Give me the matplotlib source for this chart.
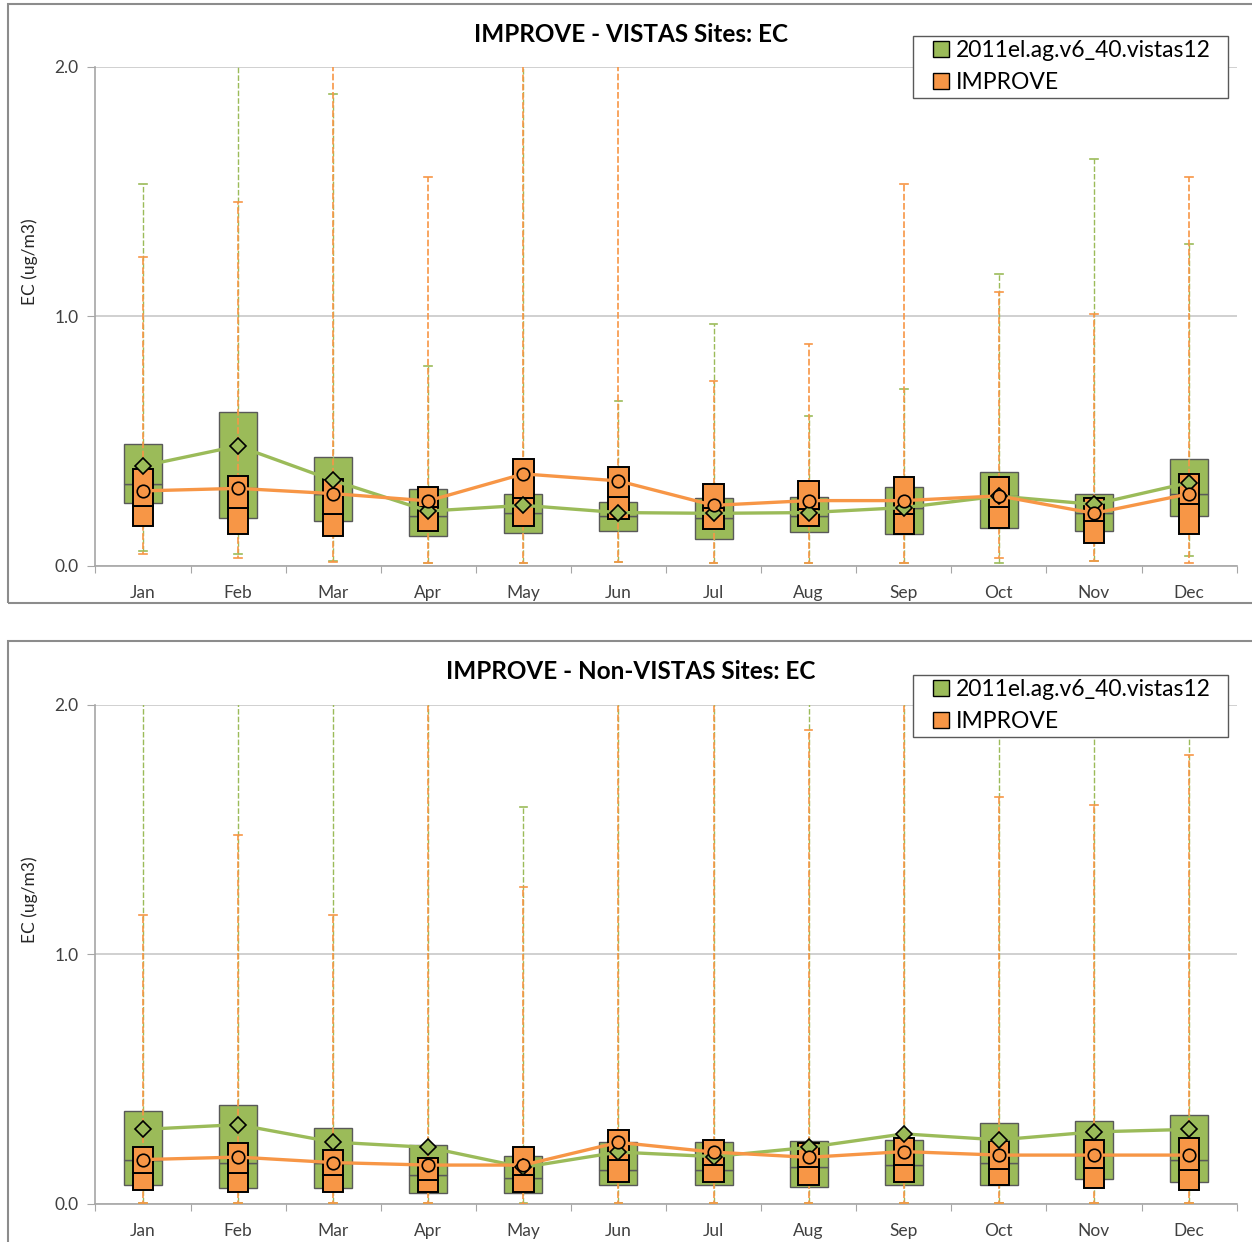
import numpy as np
import matplotlib
matplotlib.use('Agg')
import matplotlib.pyplot as plt
from matplotlib.patches import Rectangle, Patch

plt.rcParams['font.family'] = ['Lato', 'DejaVu Sans']

months = ['Jan', 'Feb', 'Mar', 'Apr', 'May', 'Jun',
          'Jul', 'Aug', 'Sep', 'Oct', 'Nov', 'Dec']
model_name = '2011el.ag.v6_40.vistas12'
obs_name = 'IMPROVE'
yticks = [0.0, 1.0, 2.0]
ytick_labels = ['0.0', '1.0', '2.0']

##### top panel: VISTAS sites (values above 2.0 run off the chart)
vis_mod_min = [0.06, 0.05, 0.02, 0.011, 0.011, 0.016, 0.011, 0.011, 0.011, 0.013, 0.02, 0.04]
vis_mod_q1 = [0.251, 0.191, 0.182, 0.122, 0.131, 0.139, 0.110, 0.138, 0.130, 0.151, 0.140, 0.200]
vis_mod_med = [0.330, 0.311, 0.290, 0.199, 0.211, 0.199, 0.194, 0.200, 0.234, 0.280, 0.211, 0.289]
vis_mod_q3 = [0.489, 0.617, 0.438, 0.310, 0.287, 0.258, 0.271, 0.278, 0.318, 0.378, 0.289, 0.429]
vis_mod_max = [1.53, 2.4, 1.89, 0.80, 2.4, 0.66, 0.97, 0.60, 0.71, 1.17, 1.63, 1.29]
vis_mod_mean = [0.401, 0.481, 0.343, 0.220, 0.243, 0.214, 0.211, 0.214, 0.234, 0.280, 0.247, 0.334]

vis_obs_min = [0.05, 0.03, 0.017, 0.013, 0.011, 0.016, 0.011, 0.011, 0.011, 0.03, 0.02, 0.013]
vis_obs_q1 = [0.160, 0.128, 0.120, 0.140, 0.160, 0.190, 0.148, 0.160, 0.128, 0.151, 0.091, 0.128]
vis_obs_med = [0.239, 0.231, 0.210, 0.238, 0.271, 0.278, 0.232, 0.228, 0.208, 0.238, 0.180, 0.248]
vis_obs_q3 = [0.389, 0.359, 0.350, 0.318, 0.428, 0.398, 0.329, 0.339, 0.358, 0.358, 0.271, 0.367]
vis_obs_max = [1.24, 1.46, 2.4, 1.56, 2.4, 2.4, 0.74, 0.89, 1.53, 1.10, 1.01, 1.56]
vis_obs_mean = [0.301, 0.311, 0.290, 0.261, 0.369, 0.341, 0.243, 0.262, 0.262, 0.281, 0.211, 0.289]

##### bottom panel: Non-VISTAS sites
non_mod_min = [0.005] * 12
non_mod_q1 = [0.075, 0.065, 0.065, 0.045, 0.045, 0.075, 0.075, 0.067, 0.075, 0.075, 0.099, 0.088]
non_mod_med = [0.178, 0.166, 0.166, 0.118, 0.105, 0.136, 0.135, 0.147, 0.155, 0.166, 0.196, 0.176]
non_mod_q3 = [0.374, 0.396, 0.306, 0.236, 0.194, 0.247, 0.247, 0.254, 0.257, 0.326, 0.334, 0.357]
non_mod_max = [2.4, 2.4, 2.4, 2.4, 1.59, 2.4, 2.4, 2.4, 2.4, 2.4, 2.4, 2.4]
non_mod_mean = [0.299, 0.318, 0.248, 0.227, 0.147, 0.208, 0.190, 0.227, 0.281, 0.257, 0.289, 0.299]

non_obs_min = [0.005, 0.005, 0.005, 0.005, 0.0, 0.005, 0.005, 0.005, 0.005, 0.005, 0.005, 0.005]
non_obs_q1 = [0.056, 0.047, 0.047, 0.047, 0.047, 0.087, 0.087, 0.078, 0.087, 0.078, 0.065, 0.056]
non_obs_med = [0.123, 0.123, 0.115, 0.095, 0.115, 0.176, 0.155, 0.147, 0.155, 0.139, 0.146, 0.136]
non_obs_q3 = [0.227, 0.246, 0.215, 0.186, 0.227, 0.295, 0.257, 0.246, 0.263, 0.254, 0.257, 0.266]
non_obs_max = [1.16, 1.48, 1.16, 2.4, 1.27, 2.4, 2.4, 1.90, 2.4, 1.63, 1.60, 1.80]
non_obs_mean = [0.178, 0.188, 0.166, 0.156, 0.156, 0.247, 0.208, 0.187, 0.210, 0.196, 0.196, 0.196]

green = '#9BBB59'
orange = '#F79646'


def draw_boxes(ax, x, q1, med, q3, width, face, edge, lw, z):
    # two stacked pieces per box: q1-median and median-q3
    for i in range(len(x)):
        ax.add_patch(Rectangle((x[i] - width / 2, q1[i]), width, med[i] - q1[i],
                               facecolor=face, edgecolor=edge, lw=lw, zorder=z))
        ax.add_patch(Rectangle((x[i] - width / 2, med[i]), width, q3[i] - med[i],
                               facecolor=face, edgecolor=edge, lw=lw, zorder=z))


def draw_whiskers(ax, x, lo, hi, color, lw, z, offset):
    for i in range(len(x)):
        ln, = ax.plot([x[i], x[i]], [lo[i], hi[i]], color=color, lw=lw, zorder=z)
        ln.set_linestyle((offset, (4, 1.5)))
        ax.plot([x[i] - 0.04, x[i] + 0.04], [hi[i], hi[i]], color=color, lw=1.2, zorder=z)
        ax.plot([x[i] - 0.04, x[i] + 0.04], [lo[i], lo[i]], color=color, lw=1.2, zorder=z)


def panel(ax, title, title_y, leg_top, mod, obs):
    x = np.arange(len(months))
    mmin, mq1, mmed, mq3, mmax, mmean = mod
    omin, oq1, omed, oq3, omax, omean = obs

    # green (model) boxes behind, orange (obs) boxes on top
    draw_boxes(ax, x, mq1, mmed, mq3, 0.40, green, '#595959', 1.0, 2)
    draw_whiskers(ax, x, mmin, mmax, green, 1.0, 3, 0)
    draw_whiskers(ax, x, omin, omax, orange, 1.2, 3.5, 2.5)
    draw_boxes(ax, x, oq1, omed, oq3, 0.215, orange, 'black', 1.4, 4)

    ax.plot(x, mmean, color=green, lw=2.4, zorder=5)
    ax.plot(x, omean, color=orange, lw=2.4, zorder=5)
    ax.plot(x, mmean, ls='none', marker='D', ms=8, mfc=green, mec='black', mew=1.2, zorder=6)
    ax.plot(x, omean, ls='none', marker='o', ms=9, mfc=orange, mec='black', mew=1.2, zorder=6)

    ax.set_xlim(-0.5, len(months) - 0.5)
    ax.set_ylim(0, 2.0)
    ax.set_yticks(yticks)
    ax.set_yticklabels(ytick_labels, fontsize=12.5, color='#404040')
    ax.set_xticks(np.arange(len(months) + 1) - 0.5)
    ax.set_xticklabels([])
    ax.set_xticks(x, minor=True)
    ax.set_xticklabels(months, minor=True, fontsize=12.5, color='#404040')
    ax.tick_params(axis='x', which='major', length=5, color='#a6a6a6', direction='out')
    ax.tick_params(axis='x', which='minor', length=0, pad=14)
    ax.tick_params(axis='y', length=6, color='#a6a6a6', pad=6)
    ax.grid(axis='y', color='#c8c8c8', lw=1.2, zorder=0)
    ax.set_axisbelow(True)
    for s in ['top', 'right']:
        ax.spines[s].set_visible(False)
    for s in ['left', 'bottom']:
        ax.spines[s].set_color('#a6a6a6')
        ax.spines[s].set_linewidth(1.2)
    ax.set_ylabel('EC (ug/m3)', fontsize=12.5, color='#262626')
    ax.yaxis.set_label_coords(-0.050, 0.61)

    fig.text(0.504, title_y, title, ha='center', va='center',
             fontsize=17.5, fontweight='bold', color='black')

    # legend frame drawn by hand so the padding matches the original
    fig.patches.append(Rectangle((913 / 1252, leg_top - 62 / 1242), 315 / 1252, 62 / 1242,
                                 transform=fig.transFigure, facecolor='white',
                                 edgecolor='#595959', lw=1.0, figure=fig, zorder=10))
    handles = [Patch(facecolor=green, edgecolor='black', lw=1.0),
               Patch(facecolor=orange, edgecolor='black', lw=1.0)]
    leg = fig.legend(handles, [model_name, obs_name], loc='upper left',
                     bbox_to_anchor=(931 / 1252, leg_top - 2 / 1242), fontsize=16.5,
                     frameon=False, handlelength=0.7, handleheight=0.7,
                     handletextpad=0.3, borderpad=0.1, labelspacing=0.45,
                     borderaxespad=0)
    leg.set_zorder(11)


fig = plt.figure(figsize=(12.52, 12.42), dpi=100)

# chart borders
fig.patches.append(Rectangle((0.0064, 0.5145), 1.1, 0.4823, transform=fig.transFigure,
                             facecolor='none', edgecolor='#8c8c8c', lw=1.5, figure=fig))
fig.patches.append(Rectangle((0.0064, -0.1), 1.1, 0.5839, transform=fig.transFigure,
                             facecolor='none', edgecolor='#8c8c8c', lw=1.5, figure=fig))

ax1 = fig.add_axes([0.0762, 0.5443, 0.9115, 0.4018])
ax2 = fig.add_axes([0.0762, 0.0306, 0.9115, 0.4018])

panel(ax1, 'IMPROVE - VISTAS Sites: EC', 0.9726, 1 - 36 / 1242,
      (vis_mod_min, vis_mod_q1, vis_mod_med, vis_mod_q3, vis_mod_max, vis_mod_mean),
      (vis_obs_min, vis_obs_q1, vis_obs_med, vis_obs_q3, vis_obs_max, vis_obs_mean))
panel(ax2, 'IMPROVE - Non-VISTAS Sites: EC', 0.459, 1 - 675 / 1242,
      (non_mod_min, non_mod_q1, non_mod_med, non_mod_q3, non_mod_max, non_mod_mean),
      (non_obs_min, non_obs_q1, non_obs_med, non_obs_q3, non_obs_max, non_obs_mean))

fig.savefig('out.png', dpi=100)
